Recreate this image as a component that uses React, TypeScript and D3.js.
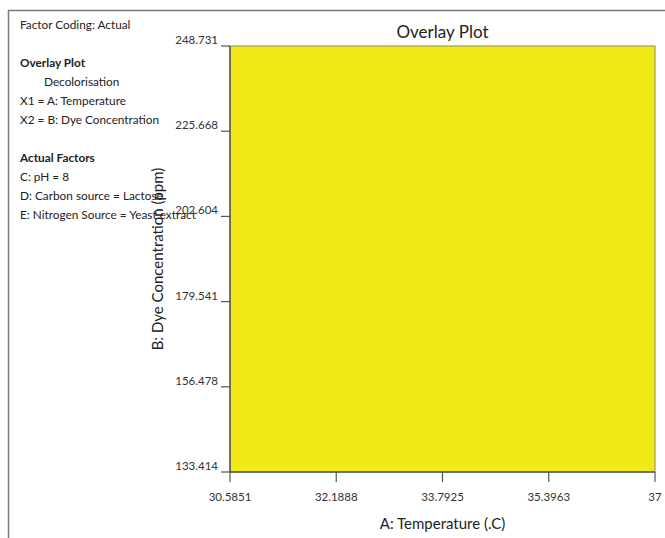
import React from 'react';
import * as d3 from 'd3';

// axis tick values
const xTicks = [30.5851, 32.1888, 33.7925, 35.3963, 37];
const yTicks = [133.414, 156.478, 179.541, 202.604, 225.668, 248.731];
const xDomain = [30.5851, 37];
const yDomain = [133.414, 248.731];

// feasible (yellow) region of the overlay: whole design space
const regionX = [30.5851, 37];
const regionY = [133.414, 248.731];

const headerLines = ['Factor Coding: Actual'];
const overlayLines = ['Decolorisation', 'X1 = A: Temperature', 'X2 = B: Dye Concentration'];
const factorLines = ['C: pH = 8', 'D: Carbon source = Lactose', 'E: Nitrogen Source = Yeast extract'];

const W = 665;
const H = 538;
const margin = { left: 230, top: 46, right: 10, bottom: 66 };
const font = 'Lato, "Open Sans", sans-serif';

export default function App() {
  const x = d3.scaleLinear().domain(xDomain).range([margin.left, W - margin.right]);
  const y = d3.scaleLinear().domain(yDomain).range([H - margin.bottom, margin.top]);

  const fmt = (v: number) => String(v);

  return (
    <svg width={W} height={H} style={{ position: 'absolute', left: 0, top: 0, background: '#fff' }}>
      <rect x={0} y={0} width={W} height={H} fill="#fff" />
      {/* outer frame */}
      <path d={`M8.5,${H} V10.5 H${W}`} fill="none" stroke="#7a7a7a" strokeWidth={1.5} />

      <g fontFamily={font} fontSize={11.8} fill="#222">
        <text x={20} y={29}>{headerLines[0]}</text>
        <text x={20} y={67} fontWeight="bold">Overlay Plot</text>
        {overlayLines.map((t, i) => (
          <text key={t} x={i === 0 ? 44 : 20} y={86 + i * 19}>{t}</text>
        ))}
        <text x={20} y={162} fontWeight="bold">Actual Factors</text>
        {factorLines.map((t, i) => (
          <text key={t} x={20} y={181 + i * 19}>{t}</text>
        ))}
      </g>

      {/* overlay region */}
      <rect
        x={x(regionX[0])}
        y={y(regionY[1])}
        width={x(regionX[1]) - x(regionX[0])}
        height={y(regionY[0]) - y(regionY[1])}
        fill="#f2ea17"
        stroke="#8a8a6a"
        strokeWidth={1}
      />

      {/* y axis */}
      <g fontFamily={font} fontSize={11.5} fill="#333">
        <line x1={x(xDomain[0])} x2={x(xDomain[0])} y1={y(yDomain[0])} y2={y(yDomain[1])} stroke="#555" strokeWidth={1.5} />
        {yTicks.map(t => (
          <g key={t}>
            <line x1={x(xDomain[0]) - 9} x2={x(xDomain[0])} y1={y(t)} y2={y(t)} stroke="#555" strokeWidth={1.2} />
            <text x={x(xDomain[0]) - 12} y={y(t) - 2} textAnchor="end">{fmt(t)}</text>
          </g>
        ))}
      </g>

      {/* x axis */}
      <g fontFamily={font} fontSize={11.5} fill="#333">
        <line x1={x(xDomain[0])} x2={x(xDomain[1])} y1={y(yDomain[0])} y2={y(yDomain[0])} stroke="#555" strokeWidth={1.5} />
        {xTicks.map(t => (
          <g key={t}>
            <line x1={x(t)} x2={x(t)} y1={y(yDomain[0])} y2={y(yDomain[0]) + 10} stroke="#555" strokeWidth={1.2} />
            <text x={x(t)} y={y(yDomain[0]) + 29} textAnchor="middle">{fmt(t)}</text>
          </g>
        ))}
      </g>

      <text x={(x(xDomain[0]) + x(xDomain[1])) / 2} y={529} textAnchor="middle" fontFamily={font} fontSize={15} fill="#222">
        A: Temperature (.C)
      </text>
      <text
        transform={`translate(163,${(y(yDomain[0]) + y(yDomain[1])) / 2}) rotate(-90)`}
        textAnchor="middle"
        fontFamily={font}
        fontSize={15}
        fill="#222"
      >
        B: Dye Concentration (ppm)
      </text>
      <text x={(x(xDomain[0]) + x(xDomain[1])) / 2} y={38} textAnchor="middle" fontFamily={font} fontSize={17} fill="#222">
        Overlay Plot
      </text>
    </svg>
  );
}
